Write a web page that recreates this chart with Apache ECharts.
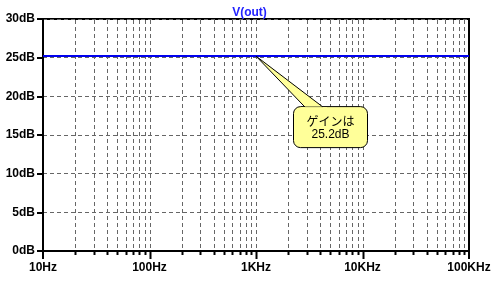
<!DOCTYPE html>
<html><head><meta charset="utf-8">
<script src="https://cdn.jsdelivr.net/npm/echarts@6/dist/echarts.min.js"></script>
<style>html,body{margin:0;padding:0;background:#fff}#c{width:499px;height:283px}</style>
</head><body><div id="c"></div>
<script>
var titleText = 'V(out)';
var freqs = [10, 100, 1000, 10000, 100000];
var gainDb = [25.2, 25.2, 25.2, 25.2, 25.2];
var xTickValues = [10, 100, 1000, 10000, 100000];
var xTickLabels = ['10Hz', '100Hz', '1KHz', '10KHz', '100KHz'];
var yTickValues = [0, 5, 10, 15, 20, 25, 30];
var yTickLabels = ['0dB', '5dB', '10dB', '15dB', '20dB', '25dB', '30dB'];
var gridFreqs = [20,30,40,50,60,70,80,90,100,200,300,400,500,600,700,800,900,1000,2000,3000,4000,5000,6000,7000,8000,9000,10000,20000,30000,40000,50000,60000,70000,80000,90000];
var majorFreqs = [10, 100, 1000, 10000, 100000];
var calloutPoint = [1000, 25.2];
var calloutLines = ['ゲインは', '25.2dB'];

var chart = echarts.init(document.getElementById('c'), null, {renderer: 'canvas'});
var lineData = freqs.map(function (f, i) { return [f, gainDb[i]]; });
var fontBold = {fontFamily: '"Liberation Sans", Arial, sans-serif', fontWeight: 'bold', fontSize: 12, color: '#000'};

chart.setOption({
  animation: false,
  title: {text: titleText, left: 'center', top: 2, textStyle: {fontFamily: '"Liberation Sans", Arial, sans-serif', fontWeight: 'bold', fontSize: 12, color: '#2222ff'}},
  grid: {left: 43, right: 30, top: 19, bottom: 32, show: true, borderColor: '#000', borderWidth: 2, backgroundColor: 'transparent'},
  xAxis: {
    type: 'log', logBase: 10, min: 10, max: 100000,
    axisLine: {lineStyle: {color: '#000', width: 2}},
    axisTick: {show: false},
    splitLine: {show: false},
    axisLabel: Object.assign({margin: 11, formatter: function (v) {
      var idx = xTickValues.indexOf(Math.round(v));
      return idx >= 0 ? xTickLabels[idx] : '';
    }}, fontBold)
  },
  yAxis: {
    type: 'value', min: 0, max: 30, interval: 5,
    axisLine: {show: true, lineStyle: {color: '#000', width: 2}},
    axisTick: {show: true, length: 6, lineStyle: {color: '#000', width: 2}},
    splitLine: {show: true, lineStyle: {color: '#666', type: [4, 3], width: 1}},
    axisLabel: Object.assign({margin: 8, formatter: function (v) {
      var idx = yTickValues.indexOf(v);
      return idx >= 0 ? yTickLabels[idx] : '';
    }}, fontBold)
  },
  series: [
    {
      type: 'custom', z: 1, clip: false, silent: true,
      data: gridFreqs.map(function (f) { return [f, majorFreqs.indexOf(f) >= 0 ? 1 : 0]; }),
      renderItem: function (params, api) {
        var f = api.value(0), major = api.value(1);
        var top = api.coord([f, 30]);
        var bot = api.coord([f, 0]);
        var x = Math.round(bot[0]) + 0.5;
        var children = [];
        if (f < 100000) {
          children.push({type: 'line', shape: {x1: x, y1: top[1] + 1, x2: x, y2: bot[1] - 1},
            style: {stroke: '#666', lineWidth: 1, lineDash: [4, 3]}});
        }
        children.push({type: 'line', shape: {x1: x, y1: bot[1], x2: x, y2: bot[1] + (major ? 8 : 4)},
          style: {stroke: '#000', lineWidth: 2}});
        return {type: 'group', children: children};
      }
    },
    {
      type: 'custom', z: 1, clip: false, silent: true,
      data: [[10, 1], [100000, 1]],
      renderItem: function (params, api) {
        var bot = api.coord([api.value(0), 0]);
        var x = Math.round(bot[0]);
        return {type: 'line', shape: {x1: x, y1: bot[1], x2: x, y2: bot[1] + 8}, style: {stroke: '#000', lineWidth: 2}};
      }
    },
    {
      type: 'line', z: 5, data: lineData, showSymbol: false, symbol: 'none',
      lineStyle: {color: '#0000ee', width: 2}
    }
  ]
});

var p = chart.convertToPixel({gridIndex: 0}, calloutPoint);
var bx = p[0] + 37, by = p[1] + 50, bw = 74, bh = 41;
chart.setOption({
  graphic: [
    {type: 'polygon', z: 100, shape: {points: [[p[0], p[1]], [bx + 12, by + 1], [bx + 30, by + 1]]},
      style: {fill: '#ffff99', stroke: '#000', lineWidth: 1}},
    {type: 'rect', z: 99, shape: {x: bx + 0.5, y: by + 0.5, width: bw, height: bh, r: 7},
      style: {fill: '#ffff99', stroke: '#000', lineWidth: 1}},
    {type: 'rect', z: 101, shape: {x: bx + 8, y: by + 1, width: 26, height: 3},
      style: {fill: '#ffff99'}},
    {type: 'text', z: 102, x: bx + bw / 2 + 0.5, y: by + 15,
      style: {text: calloutLines[0], align: 'center', verticalAlign: 'middle', fill: '#000', fontSize: 12, fontFamily: '"Noto Sans CJK JP", sans-serif'}},
    {type: 'text', z: 102, x: bx + bw / 2 + 0.5, y: by + 29,
      style: {text: calloutLines[1], align: 'center', verticalAlign: 'middle', fill: '#000', fontSize: 12, fontFamily: '"Liberation Sans", Arial, sans-serif'}}
  ]
});
</script></body></html>
